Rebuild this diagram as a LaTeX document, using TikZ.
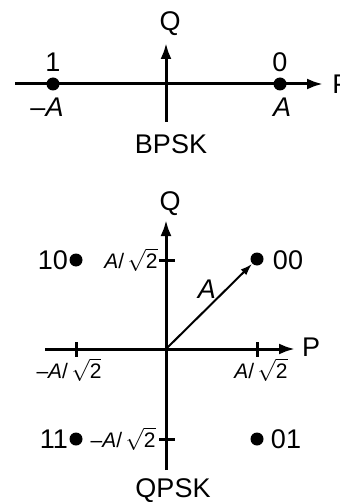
\documentclass[tikz,border=0pt]{standalone}
\usepackage{amsmath}
\usepackage{fontspec}
\setmainfont{Liberation Sans}
\usetikzlibrary{arrows.meta, positioning, calc}

\newcommand{\amp}{\textit{A}/\,$\sqrt{\text{2}}$}

\begin{document}
\begin{tikzpicture}[x=0.5pt, y=-0.5pt,
  every node/.style={font=\fontsize{13.5}{15}\selectfont, inner sep=0pt},
  axis/.style={line width=1.5pt, -{Latex[length=8pt,width=5.5pt]}},
  pt/.style={circle, fill=black, minimum size=6.5pt},
  small/.style={font=\fontsize{10.5}{12}\selectfont}]
  \useasboundingbox (0,0) rectangle (340,502);

  % BPSK axes
  \coordinate (bl) at (15,84);
  \coordinate (br) at (323,84);
  \coordinate (bb) at (166,122);
  \coordinate (bt) at (166,43);
  \draw[axis] (bl) -- (br);
  \draw[axis] (bb) -- (bt);
  \node (bq) at (170,24) {Q};
  \node[anchor=west] (bp) at (332,84) {P};

  % BPSK points
  \node[pt] (b1) at (53,84) {};
  \node[pt] (b0) at (280,84) {};
  \node (b1bit) at (53,62) {1};
  \node (b0bit) at (280,62) {0};
  \node (b1amp) at (47,107) {–\textit{A}};
  \node (b0amp) at (282,107) {\textit{A}};
  \node (bpsk) at (171,144) {BPSK};

  % QPSK axes
  \coordinate (o) at (166,349);
  \coordinate (ql) at (45,349);
  \coordinate (qr) at (295,349);
  \coordinate (qb) at (166,470);
  \coordinate (qt) at (166,220);
  \draw[axis] (ql) -- (qr);
  \draw[axis] (qb) -- (qt);
  \node (qq) at (170,204) {Q};
  \node (qp) at (311,347) {P};

  % ticks
  \draw[line width=1.5pt] (76,342) -- (76,357);
  \draw[line width=1.5pt] (257,342) -- (257,357);
  \draw[line width=1.5pt] (159,260) -- (175,260);
  \draw[line width=1.5pt] (159,439) -- (175,439);
  \node[small] (tl) at (69,370) {–\amp};
  \node[small] (tr) at (261,370) {\amp};
  \node[small, anchor=east] (tu) at (158,260) {\amp};
  \node[small, anchor=east] (td) at (156,439) {–\amp};

  % QPSK points
  \node[pt] (d10) at (76,260) {};
  \node[pt] (d00) at (257,259) {};
  \node[pt] (d11) at (76,439) {};
  \node[pt] (d01) at (257,439) {};
  \node (l10) at (53,260) {10};
  \node (l00) at (288,260) {00};
  \node (l11) at (54,439) {11};
  \node (l01) at (286,439) {01};

  % amplitude vector
  \draw[line width=1pt, -{Latex[length=6pt,width=4pt]}] (o) -- (d00);
  \node (va) at (207,289) {\textit{A}};
  \node (qpsk) at (173,491) {QPSK};
\end{tikzpicture}
\end{document}
